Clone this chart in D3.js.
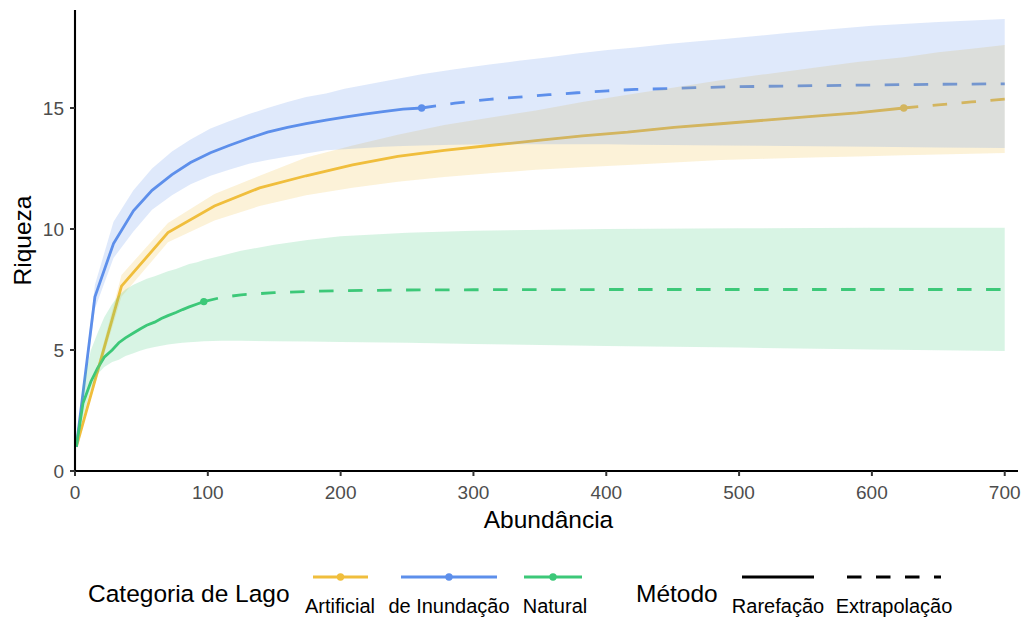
<!DOCTYPE html>
<html>
<head>
<meta charset="utf-8">
<script src="https://cdn.jsdelivr.net/npm/d3@7"></script>
<style>
  html, body { margin: 0; padding: 0; background: #fff; }
  svg { display: block; font-family: "Liberation Sans", Arial, sans-serif; }
</style>
</head>
<body>
<svg id="chart" width="1027" height="620"></svg>
<script>
// Rarefaction / extrapolation curves (sample size vs. richness) per lake category

const categories = ["Artificial", "de Inundação", "Natural"];
const colors = ["#F0BE3C", "#5D8FEB", "#3CC878"];
const observedN = [624, 261, 97];
const observedS = [15, 15, 7];

// Artificial
const artM  = [1, 35, 70, 105, 139, 174, 209, 243, 278, 312, 347, 382, 416, 451, 486, 520, 555, 589, 624, 650, 675, 700];
const artQD = [1, 7.64, 9.85, 10.95, 11.7, 12.2, 12.65, 13.0, 13.25, 13.45, 13.65, 13.85, 14.0, 14.2, 14.35, 14.5, 14.65, 14.8, 15.0, 15.13, 15.25, 15.37];
const artHi = [1, 8.1, 10.25, 11.45, 12.2, 12.95, 13.45, 13.9, 14.3, 14.6, 14.9, 15.25, 15.55, 15.85, 16.15, 16.4, 16.65, 16.9, 17.1, 17.3, 17.45, 17.6];
const artLo = [1, 7.2, 9.45, 10.35, 10.95, 11.4, 11.7, 11.95, 12.15, 12.3, 12.45, 12.55, 12.65, 12.75, 12.85, 12.9, 12.95, 13.0, 13.05, 13.08, 13.11, 13.14];

// de Inundação
const inuM  = [1, 15, 29, 44, 58, 73, 87, 102, 116, 131, 145, 160, 174, 189, 203, 218, 232, 247, 261, 286, 312, 334, 357, 378, 401, 422, 446, 467, 489, 536, 600, 650, 700];
const inuQD = [1, 7.2, 9.4, 10.75, 11.6, 12.25, 12.75, 13.15, 13.45, 13.75, 14.0, 14.2, 14.35, 14.5, 14.62, 14.75, 14.85, 14.95, 15.0, 15.2, 15.36, 15.45, 15.55, 15.63, 15.71, 15.77, 15.8, 15.84, 15.87, 15.91, 15.95, 15.98, 16.0];
const inuHi = [1, 7.7, 10.3, 11.6, 12.5, 13.2, 13.7, 14.15, 14.45, 14.75, 15.0, 15.25, 15.45, 15.6, 15.8, 15.95, 16.1, 16.25, 16.4, 16.6, 16.8, 16.95, 17.1, 17.25, 17.4, 17.5, 17.65, 17.75, 17.85, 18.1, 18.4, 18.55, 18.68];
const inuLo = [1, 6.7, 8.8, 9.9, 10.8, 11.4, 11.85, 12.2, 12.45, 12.7, 12.85, 13.0, 13.12, 13.25, 13.3, 13.35, 13.4, 13.43, 13.45, 13.48, 13.5, 13.5, 13.5, 13.5, 13.5, 13.48, 13.47, 13.46, 13.45, 13.43, 13.4, 13.37, 13.35];

// Natural
const natM  = [1, 6, 12, 17, 22, 28, 33, 38, 44, 49, 54, 60, 65, 70, 76, 81, 86, 92, 97, 110, 125, 150, 175, 200, 250, 300, 400, 500, 600, 700];
const natQD = [1, 2.8, 3.7, 4.25, 4.7, 5.0, 5.3, 5.5, 5.7, 5.87, 6.02, 6.15, 6.3, 6.42, 6.55, 6.67, 6.78, 6.9, 7.0, 7.17, 7.28, 7.37, 7.42, 7.45, 7.48, 7.49, 7.5, 7.5, 7.5, 7.5];
const natHi = [1, 3.6, 5.0, 5.7, 6.35, 6.9, 7.25, 7.5, 7.7, 7.82, 7.94, 8.05, 8.15, 8.25, 8.35, 8.45, 8.55, 8.63, 8.72, 8.9, 9.1, 9.35, 9.55, 9.7, 9.85, 9.93, 10.0, 10.03, 10.05, 10.05];
const natLo = [1, 2.2, 3.4, 4.0, 4.3, 4.5, 4.6, 4.75, 4.87, 4.97, 5.05, 5.12, 5.18, 5.23, 5.27, 5.3, 5.32, 5.34, 5.36, 5.38, 5.38, 5.36, 5.35, 5.33, 5.3, 5.25, 5.17, 5.1, 5.02, 4.96];

const xTicks = [0, 100, 200, 300, 400, 500, 600, 700];
const yTicks = [0, 5, 10, 15];
const methods = ["Rarefação", "Extrapolação"];

const seriesM  = [artM, inuM, natM];
const seriesQD = [artQD, inuQD, natQD];
const seriesHi = [artHi, inuHi, natHi];
const seriesLo = [artLo, inuLo, natLo];

const svg = d3.select("#chart");
const pL = 75, pR = 1018, pT = 10, pB = 471;

const x = d3.scaleLinear().domain([0, 710]).range([pL, pR]);
const y = d3.scaleLinear().domain([0, 19.05]).range([pB, pT]);

const series = categories.map((name, i) => ({
  name, color: colors[i], n: observedN[i], s: observedS[i],
  pts: seriesM[i].map((m, j) => ({ m, qd: seriesQD[i][j], lo: seriesLo[i][j], hi: seriesHi[i][j] }))
}));

const line = d3.line().x(d => x(d.m)).y(d => y(d.qd));
const area = d3.area().x(d => x(d.m)).y0(d => y(d.lo)).y1(d => y(d.hi));

const DASH = "14.5,14.5";
const LW = 2.8;
const plot = svg.append("g");

// curves first, confidence bands laid over them
series.forEach(s => {
  const rare = s.pts.filter(d => d.m <= s.n);
  const extra = s.pts.filter(d => d.m >= s.n);
  plot.append("path").attr("d", line(rare))
    .attr("fill", "none").attr("stroke", s.color).attr("stroke-width", LW);
  plot.append("path").attr("d", line(extra))
    .attr("fill", "none").attr("stroke", s.color).attr("stroke-width", LW)
    .attr("stroke-dasharray", DASH);
  plot.append("circle").attr("cx", x(s.n)).attr("cy", y(s.s)).attr("r", 3.7)
    .attr("fill", s.color);
});
series.forEach(s => {
  plot.append("path").attr("d", area(s.pts))
    .attr("fill", s.color).attr("fill-opacity", 0.2).attr("stroke", "none");
});

// axes
const axes = svg.append("g");
axes.append("line").attr("x1", pL).attr("x2", pL).attr("y1", pT).attr("y2", pB + 1)
  .attr("stroke", "#000").attr("stroke-width", 2.1);
axes.append("line").attr("x1", pL - 1).attr("x2", pR).attr("y1", pB).attr("y2", pB)
  .attr("stroke", "#000").attr("stroke-width", 2.1);

xTicks.forEach(t => {
  axes.append("line").attr("x1", x(t)).attr("x2", x(t)).attr("y1", pB).attr("y2", pB + 5)
    .attr("stroke", "#333").attr("stroke-width", 2);
  axes.append("text").attr("x", x(t)).attr("y", pB + 28).attr("text-anchor", "middle")
    .attr("font-size", 19).attr("fill", "#4D4D4D").text(t);
});
yTicks.forEach(t => {
  axes.append("line").attr("x1", pL - 5).attr("x2", pL).attr("y1", y(t)).attr("y2", y(t))
    .attr("stroke", "#333").attr("stroke-width", 2);
  axes.append("text").attr("x", pL - 11).attr("y", y(t) + 7).attr("text-anchor", "end")
    .attr("font-size", 19).attr("fill", "#4D4D4D").text(t);
});

svg.append("text").attr("x", (pL + pR) / 2 + 2).attr("y", 528).attr("text-anchor", "middle")
  .attr("font-size", 24.5).attr("fill", "#000").text("Abundância");
svg.append("text").attr("transform", `translate(31, ${(pT + pB) / 2}) rotate(-90)`)
  .attr("text-anchor", "middle").attr("font-size", 24.5).attr("fill", "#000").text("Riqueza");

// legends
const leg = svg.append("g");
const keyY = 577, labY = 613;
leg.append("text").attr("x", 88).attr("y", 602).attr("font-size", 24.5).text("Categoria de Lago");
const catKeys = [[313, 368], [401, 497], [524, 582]];
const catLabelX = [340, 449, 555];
categories.forEach((name, i) => {
  const [a, b] = catKeys[i];
  leg.append("line").attr("x1", a).attr("x2", b).attr("y1", keyY).attr("y2", keyY)
    .attr("stroke", colors[i]).attr("stroke-width", LW);
  leg.append("circle").attr("cx", (a + b) / 2).attr("cy", keyY).attr("r", 3.7).attr("fill", colors[i]);
  leg.append("text").attr("x", catLabelX[i]).attr("y", labY).attr("text-anchor", "middle")
    .attr("font-size", 20).text(name);
});
leg.append("text").attr("x", 636).attr("y", 602).attr("font-size", 24.5).text("Método");
const metKeys = [[742, 814], [847, 941]];
methods.forEach((name, i) => {
  const [a, b] = metKeys[i];
  leg.append("line").attr("x1", a).attr("x2", b).attr("y1", keyY).attr("y2", keyY)
    .attr("stroke", "#000").attr("stroke-width", LW)
    .attr("stroke-dasharray", i === 1 ? DASH : null);
  leg.append("text").attr("x", (a + b) / 2).attr("y", labY).attr("text-anchor", "middle")
    .attr("font-size", 20).text(name);
});
</script>
</body>
</html>
